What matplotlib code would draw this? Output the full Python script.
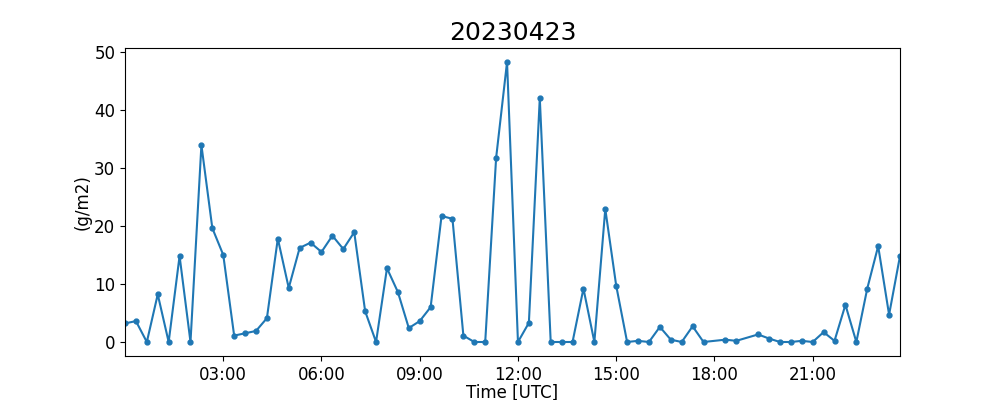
import matplotlib
matplotlib.use("Agg")
import matplotlib.pyplot as plt
import matplotlib.dates as mdates
from datetime import datetime

date_str = "20230423"
times = ["00:00", "00:20", "00:40", "01:00", "01:20", "01:40", "02:00", "02:20", "02:40",
         "03:00", "03:20", "03:40", "04:00", "04:20", "04:40", "05:00", "05:20", "05:40",
         "06:00", "06:20", "06:40", "07:00", "07:20", "07:40", "08:00", "08:20", "08:40",
         "09:00", "09:20", "09:40", "10:00", "10:20", "10:40", "11:00", "11:20", "11:40",
         "12:00", "12:20", "12:40", "13:00", "13:20", "13:40", "14:00", "14:20", "14:40",
         "15:00", "15:20", "15:40", "16:00", "16:20", "16:40", "17:00", "17:20", "17:40",
         "18:20", "18:40", "19:20", "19:40", "20:00", "20:20", "20:40",
         "21:00", "21:20", "21:40", "22:00", "22:20", "22:40", "23:00", "23:20", "23:40"]
values = [3.2, 3.6, 0.0, 8.2, 0.0, 14.8, 0.0, 33.9, 19.6,
          15.0, 1.1, 1.5, 1.9, 4.1, 17.8, 9.3, 16.2, 17.1,
          15.5, 18.3, 16.0, 18.9, 5.3, 0.0, 12.7, 8.6, 2.4,
          3.6, 6.0, 21.7, 21.2, 1.1, 0.0, 0.0, 31.7, 48.2,
          0.0, 3.3, 42.0, 0.0, 0.0, 0.0, 9.2, 0.0, 22.9,
          9.7, 0.0, 0.2, 0.0, 2.6, 0.4, 0.0, 2.7, 0.0,
          0.4, 0.2, 1.3, 0.6, 0.0, 0.0, 0.2,
          0.0, 1.7, 0.2, 6.4, 0.0, 9.2, 16.5, 4.7, 14.8]

x = [datetime.strptime(date_str + " " + t, "%Y%m%d %H:%M") for t in times]

fig, ax = plt.subplots(figsize=(10, 4), dpi=100)
ax.plot(x, values, marker="o", markersize=3.5, color="tab:blue", linewidth=1.5)
ax.set_xlim(x[0], x[-1])
ax.xaxis.set_major_locator(mdates.HourLocator(byhour=range(3, 24, 3)))
ax.xaxis.set_major_formatter(mdates.DateFormatter("%H:%M"))
ax.tick_params(labelsize=12)
ax.set_xlabel("Time [UTC]", fontsize=12, labelpad=0)
ax.set_ylabel("(g/m2)", fontsize=12, labelpad=2)
ax.set_title(date_str, fontsize=18)
fig.savefig("out.png", dpi=100)
